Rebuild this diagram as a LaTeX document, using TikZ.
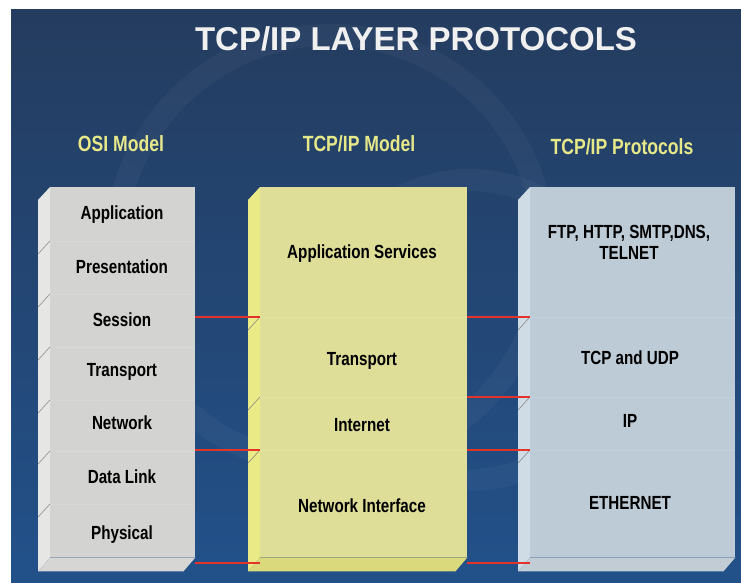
\documentclass[tikz,border=0pt]{standalone}
\usepackage{fontspec}
\setmainfont{Liberation Sans}
\newfontfamily\narrowsans[FakeStretch=0.8]{Liberation Sans}
\definecolor{bgtop}{HTML}{243C5F}
\definecolor{bgbot}{HTML}{22518A}
\definecolor{osigray}{HTML}{D3D3D1}
\definecolor{osibevel}{HTML}{E6E6E4}
\definecolor{modelkhaki}{HTML}{DEDE98}
\definecolor{modelbevel}{HTML}{EAEA86}
\definecolor{protoblue}{HTML}{BDCBD6}
\definecolor{protobevel}{HTML}{CFDBE5}
\definecolor{headyellow}{HTML}{E6E88A}
\definecolor{linkred}{HTML}{E2342B}

\begin{document}
\begin{tikzpicture}[x=1pt, y=-1pt,
    stack/.style={minimum width=#1, minimum height=370pt, anchor=north west, inner sep=0pt},
    layer/.style={font=\narrowsans\bfseries\fontsize{19}{21}\selectfont, text height=0.9em, text depth=0.2em, inner sep=0pt, align=center},
    colhead/.style={font=\narrowsans\bfseries\fontsize{22}{24}\selectfont, text=headyellow, text height=0.9em, text depth=0.2em, inner sep=0pt},
    link/.style={draw=linkred, line width=2.6pt},
    tick/.style={draw=black!50, line width=0.5pt},
    seam/.style={draw=white, opacity=0.12, line width=0.8pt},
    swirl/.style={draw=white, opacity=0.035, line width=22pt}
  ]
  \useasboundingbox (0,0) rectangle (741,583);
  % slide background
  \shade[top color=bgtop, bottom color=bgbot] (11,10) rectangle (741,583);
  \begin{scope}
    \clip (11,10) rectangle (741,583);
    \draw[swirl] (330,250) circle[radius=215];
    \draw[swirl] (470,330) circle[radius=150];
  \end{scope}

  \node[font=\bfseries\fontsize{33}{36}\selectfont, text=white!94!black] (title) at (416,39) {TCP/IP LAYER PROTOCOLS};

  \node[colhead] (osihead) at (121,148) {OSI Model};
  \node[colhead] (tcpmhead) at (359,148) {TCP/IP Model};
  \node[colhead] (protohead) at (622,151) {TCP/IP Protocols};

  % the three stacks
  \node[stack=145pt, fill=osigray] (osi) at (50,187) {};
  \node[stack=207pt, fill=modelkhaki] (tcpm) at (260,187) {};
  \node[stack=205pt, fill=protoblue] (proto) at (530,187) {};

  % side and bottom faces
  \foreach \bx/\bevcol in {osi/osibevel, tcpm/modelbevel, proto/protobevel} {
    \fill[\bevcol] (\bx.north west) -- ++(-12,13) -- ([shift={(-12,14)}]\bx.south west) -- (\bx.south west) -- cycle;
    \fill[\bevcol!93!black] (\bx.south west) -- (\bx.south east) -- ([shift={(-12,14)}]\bx.south east) -- ([shift={(-12,14)}]\bx.south west) -- cycle;
  }

  % tile joints
  \foreach \y in {241,294,347,400,451,504} {
    \draw[tick] (osi.west |- 0,\y) -- ++(-12,13);
    \draw[seam] (osi.west |- 0,\y) -- (osi.east |- 0,\y);
  }
  \foreach \y in {317,397,450} {
    \draw[tick] (tcpm.west |- 0,\y) -- ++(-12,13);
    \draw[tick] (proto.west |- 0,\y) -- ++(-12,13);
    \draw[seam] (tcpm.west |- 0,\y) -- (tcpm.east |- 0,\y);
    \draw[seam] (proto.west |- 0,\y) -- (proto.east |- 0,\y);
  }

  % OSI layers
  \node[layer] (app) at (122,216) {Application};
  \node[layer] (pres) at (122,270) {Presentation};
  \node[layer] (sess) at (122,323) {Session};
  \node[layer] (trans) at (122,373) {Transport};
  \node[layer] (net) at (122,426) {Network};
  \node[layer] (dlink) at (122,480) {Data Link};
  \node[layer] (phys) at (122,536) {Physical};

  % TCP/IP model layers
  \node[layer] (appsvc) at (362,255) {Application Services};
  \node[layer] (mtrans) at (362,362) {Transport};
  \node[layer] (inet) at (362,428) {Internet};
  \node[layer] (netif) at (362,509) {Network Interface};

  % protocols
  \node[layer] (apps) at (629,256) {FTP, HTTP, SMTP,DNS,\\TELNET};
  \node[layer] (tcpudp) at (630,361) {TCP and UDP};
  \node[layer] (ip) at (630,424) {IP};
  \node[layer] (eth) at (630,506) {ETHERNET};

  % level markers between the stacks
  \coordinate (lvA) at (0,317);
  \coordinate (lvB) at (0,397);
  \coordinate (lvC) at (0,450);
  \coordinate (lvD) at (0,563);
  \foreach \lv in {lvA,lvC,lvD} {
    \draw[link] (osi.east |- \lv) -- (tcpm.west |- \lv);
    \draw[link] (tcpm.east |- \lv) -- (proto.west |- \lv);
  }
  \draw[link] (tcpm.east |- lvB) -- (proto.west |- lvB);
\end{tikzpicture}
\end{document}
